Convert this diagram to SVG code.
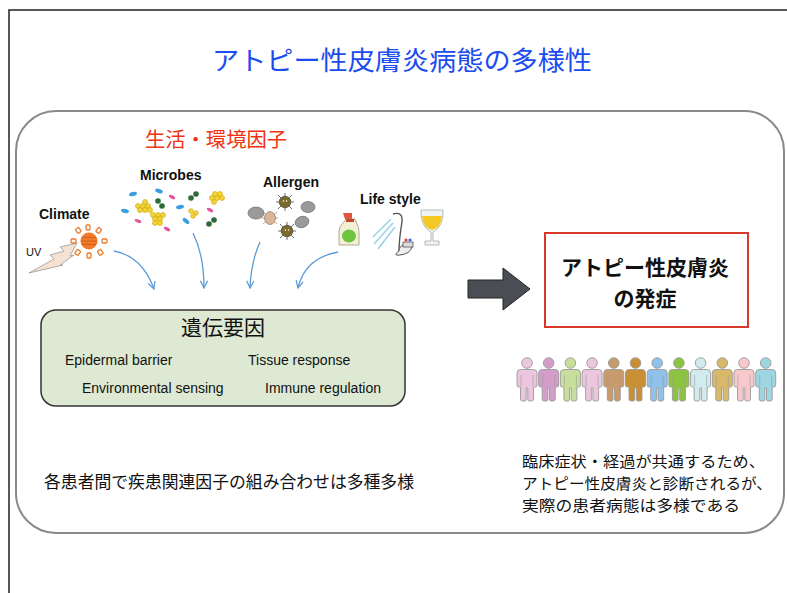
<svg xmlns="http://www.w3.org/2000/svg" xmlns:xlink="http://www.w3.org/1999/xlink" width="787" height="593" viewBox="0 0 787 593">
  <style>
    .jp { font-family: "Noto Sans CJK JP", "Noto Sans", sans-serif; }
    .lbl { font-family: "Liberation Sans", Arial, sans-serif; font-weight: bold; font-size: 14px; fill: #111; }
    .gene { font-family: "Liberation Sans", Arial, sans-serif; font-size: 14px; fill: #111; }
    .flow { fill: none; stroke: #5b9bd5; stroke-width: 1.3; }
    .blob { fill: #9a9a9a; stroke: #777; stroke-width: 0.8; }
    .blue { fill: #3a9fe0; }
    .pink { fill: #e0559a; }
    .dg { fill: #2d6b3a; }
    .yel { fill: #f3d43a; stroke: #c9a400; stroke-width: 0.6; }
  </style>
  <defs>
    <marker id="vhead" viewBox="0 0 10 10" refX="9" refY="5" markerWidth="9" markerHeight="9" orient="auto" markerUnits="userSpaceOnUse">
      <path d="M1,1 L9,5 L1,9" fill="none" stroke="#5b9bd5" stroke-width="1.4"/>
    </marker>
    <symbol id="person" viewBox="0 0 22 44" overflow="visible">
      <circle cx="11" cy="6" r="5.3" stroke="#9a9a9a" stroke-width="0.9"/>
      <path d="M4.5,12.5 H17.5 Q21,12.5 21,16 V28 Q21,30 19.2,30 H17.5 V42 Q17.5,44 15.5,44 H13.2 Q11.8,44 11.8,42 V31 H10.2 V42 Q10.2,44 8.8,44 H6.5 Q4.5,44 4.5,42 V30 H2.8 Q1,30 1,28 V16 Q1,12.5 4.5,12.5 Z" stroke="#9a9a9a" stroke-width="0.9"/>
      <path d="M5,18 V29 M17,18 V29" stroke="#9a9a9a" stroke-width="0.6" fill="none"/>
    </symbol>
    <g id="mite">
      <g stroke="#333" stroke-width="0.7">
        <path d="M-9,0 H9 M0,-9 V9 M-7,-7 L7,7 M-7,7 L7,-7"/>
      </g>
      <circle r="5.8" fill="#7a6a2a" stroke="#333" stroke-width="0.6"/>
      <circle cx="-1.6" cy="-1" r="0.8" fill="#fff"/>
      <circle cx="1.6" cy="-1" r="0.8" fill="#fff"/>
    </g>
  </defs>

  <!-- page frame -->
  <path d="M9,593 V10 H787" fill="none" stroke="#222" stroke-width="1.5"/>

  <!-- title -->
  <text class="jp" x="212" y="70" font-size="26" fill="#1a4cf0" textLength="380" lengthAdjust="spacingAndGlyphs">アトピー性皮膚炎病態の多様性</text>

  <!-- outer panel -->
  <rect x="16" y="111" width="768" height="422" rx="40" ry="40" fill="none" stroke="#8a8a8a" stroke-width="2"/>

  <text class="jp" x="145" y="147" font-size="20" fill="#f0320f" textLength="142" lengthAdjust="spacingAndGlyphs">生活・環境因子</text>

  <!-- Climate -->
  <g id="climate">
    <text class="lbl" x="39" y="219">Climate</text>
    <text x="26" y="256" font-family="Liberation Sans, Arial, sans-serif" font-size="11" fill="#111">UV</text>
    <polygon points="29,273 54,259 50,255 64,251 60,247 77,243 70,256 74,255 60,265 63,265" fill="#f6e2d2" stroke="#999" stroke-width="0.8"/>
    <g fill="none" stroke="#ee7a2a" stroke-width="1.3">
      <rect x="86" y="225" width="4" height="5" rx="1"/>
      <rect x="97" y="228" width="4" height="5" rx="1" transform="rotate(35 99 230)"/>
      <rect x="102" y="239" width="5" height="4" rx="1"/>
      <rect x="98" y="250" width="4" height="5" rx="1" transform="rotate(-35 100 252)"/>
      <rect x="87" y="253" width="4" height="5" rx="1"/>
      <rect x="76" y="250" width="4" height="5" rx="1" transform="rotate(35 78 252)"/>
      <rect x="71" y="239" width="5" height="4" rx="1"/>
      <rect x="76" y="228" width="4" height="5" rx="1" transform="rotate(-35 78 230)"/>
    </g>
    <circle cx="89" cy="241" r="8.5" fill="#f07a2a"/>
    <path d="M82,237.5 H96 M81,241 H97 M82,244.5 H96" stroke="#c95510" stroke-width="0.7"/>
  </g>

  <!-- Microbes -->
  <g id="microbes">
    <text class="lbl" x="140" y="180">Microbes</text>
    <ellipse class="blue" cx="133" cy="194" rx="4" ry="2" transform="rotate(-15 133 194)"/>
    <ellipse class="blue" cx="125" cy="211" rx="4" ry="2" transform="rotate(10 125 211)"/>
    <ellipse class="blue" cx="159" cy="191" rx="4" ry="2" transform="rotate(20 159 191)"/>
    <ellipse class="blue" cx="180" cy="207" rx="4" ry="2" transform="rotate(-10 180 207)"/>
    <ellipse class="blue" cx="186" cy="221" rx="4" ry="2" transform="rotate(40 186 221)"/>
    <ellipse class="pink" cx="172" cy="197" rx="3.5" ry="1.6" transform="rotate(30 172 197)"/>
    <ellipse class="pink" cx="138" cy="221" rx="3.5" ry="1.6" transform="rotate(20 138 221)"/>
    <ellipse class="pink" cx="167" cy="229" rx="3.5" ry="1.6" transform="rotate(30 167 229)"/>
    <ellipse class="pink" cx="210" cy="210" rx="3.5" ry="1.6" transform="rotate(30 210 210)"/>
    <circle class="dg" cx="158" cy="201" r="2.8"/><circle class="dg" cx="162" cy="206" r="2.8"/>
    <circle class="dg" cx="191" cy="198" r="2.8"/><circle class="dg" cx="196" cy="194" r="2.8"/>
    <circle class="dg" cx="209" cy="224" r="2.8"/><circle class="dg" cx="214" cy="220" r="2.8"/>
    <g>
      <circle class="yel" cx="138" cy="206" r="2.5"/><circle class="yel" cx="143" cy="206" r="2.5"/><circle class="yel" cx="148" cy="206" r="2.5"/>
      <circle class="yel" cx="140" cy="210" r="2.5"/><circle class="yel" cx="145" cy="210" r="2.5"/><circle class="yel" cx="150" cy="210" r="2.5"/>
      <circle class="yel" cx="145" cy="202" r="2.5"/>
      <circle class="yel" cx="153" cy="215" r="2.5"/><circle class="yel" cx="158" cy="215" r="2.5"/><circle class="yel" cx="163" cy="215" r="2.5"/>
      <circle class="yel" cx="155" cy="219" r="2.5"/><circle class="yel" cx="160" cy="219" r="2.5"/>
      <circle class="yel" cx="155" cy="223" r="2.5"/><circle class="yel" cx="160" cy="223" r="2.5"/>
      <circle class="yel" cx="212" cy="198" r="2.5"/><circle class="yel" cx="217" cy="198" r="2.5"/><circle class="yel" cx="222" cy="198" r="2.5"/>
      <circle class="yel" cx="215" cy="194" r="2.5"/><circle class="yel" cx="220" cy="194" r="2.5"/>
      <circle class="yel" cx="214" cy="202" r="2.5"/>
      <circle class="yel" cx="191" cy="211" r="2.3"/><circle class="yel" cx="196" cy="213" r="2.3"/><circle class="yel" cx="193" cy="216" r="2.3"/>
    </g>
  </g>

  <!-- Allergen -->
  <g id="allergen">
    <text class="lbl" x="263" y="187">Allergen</text>
    <ellipse class="blob" cx="256" cy="213" rx="8" ry="6"/>
    <ellipse class="blob" cx="308" cy="207" rx="7" ry="5.5"/>
    <ellipse class="blob" cx="302" cy="222" rx="7" ry="5.5" transform="rotate(-20 302 222)"/>
    <use href="#mite" x="285" y="202"/>
    <use href="#mite" x="287" y="231"/>
    <g stroke="#8a6a50" stroke-width="0.6">
      <path d="M263,212 L277,224 M263,224 L277,212 M262,218 H278"/>
    </g>
    <ellipse cx="270" cy="218" rx="5.5" ry="6.5" fill="#d8b69a" stroke="#8a6a50" stroke-width="0.6"/>
  </g>

  <!-- Life style -->
  <g id="lifestyle">
    <text class="lbl" x="360" y="204">Life style</text>
    <!-- spray bottle -->
    <path d="M343,213 H352 V219 H345 Z" fill="#e3523a"/>
    <path d="M346,219 H355 L357,224 Q359,227 359,232 V245 H339 V232 Q339,226 343,223 Z" fill="#f4f0d8" stroke="#9a9a70" stroke-width="0.8"/>
    <ellipse cx="349" cy="236" rx="7" ry="6.5" fill="#6fc33e"/>
    <rect x="346" y="219" width="8" height="3" fill="#c4462e"/>
    <!-- shower -->
    <path d="M373,237 L391,219 M374,244 L393,223 M378,249 L395,227" stroke="#9ad1ec" stroke-width="1.5" fill="none"/>
    <path d="M393,214 Q403,211 402,222 Q399,240 399,251" fill="none" stroke="#555" stroke-width="1.4"/>
    <path d="M399,251 Q392,256 400,255 Q410,254 412,247 L405,244 Q399,246 399,251" fill="#eee" stroke="#555" stroke-width="1"/>
    <rect x="403" y="242" width="10" height="5" fill="#ddd" stroke="#555" stroke-width="0.8"/>
    <circle cx="406" cy="240" r="1.6" fill="#e04040"/><circle cx="410" cy="240" r="1.6" fill="#4060e0"/>
    <!-- glass -->
    <path d="M421,210 H443 Q444,226 433,232 V241 H439 V245 H425 V241 H431 V232 Q420,226 421,210 Z" fill="#eef3f4" stroke="#aaa" stroke-width="0.8"/>
    <path d="M422,216 H442 Q441,228 432,230 Q423,228 422,216 Z" fill="#f5c823"/>
  </g>

  <!-- connectors -->
  <g id="connectors">
    <path class="flow" d="M114,251 Q142,256 154,289" marker-end="url(#vhead)"/>
    <path class="flow" d="M193,233 Q204,255 204,288" marker-end="url(#vhead)"/>
    <path class="flow" d="M260,242 Q251,262 250,288" marker-end="url(#vhead)"/>
    <path class="flow" d="M338,252 Q305,258 298,288" marker-end="url(#vhead)"/>
    <polygon points="468,280 503,280 503,268 530,289 503,310 503,298 468,298" fill="#4a4e54" stroke="#222" stroke-width="1"/>
  </g>

  <!-- genetic factors -->
  <g id="genetic">
    <rect x="41" y="310" width="364" height="96" rx="15" ry="15" fill="#dde9d3" stroke="#333" stroke-width="1.5"/>
    <text class="jp" x="223" y="335" font-size="21" fill="#111" text-anchor="middle">遺伝要因</text>
    <text class="gene" x="65" y="365">Epidermal barrier</text>
    <text class="gene" x="248" y="365">Tissue response</text>
    <text class="gene" x="82" y="393">Environmental sensing</text>
    <text class="gene" x="265" y="393">Immune regulation</text>
  </g>

  <!-- onset box -->
  <g id="onset">
    <rect x="545" y="233" width="203" height="94" fill="#fff" stroke="#d8382a" stroke-width="2"/>
    <text class="jp" x="645" y="275" font-size="21" font-weight="bold" fill="#111" text-anchor="middle">アトピー性皮膚炎</text>
    <text class="jp" x="645" y="306" font-size="21" font-weight="bold" fill="#111" text-anchor="middle">の発症</text>
  </g>

  <!-- patients -->
  <g id="patients">
    <use href="#person" x="516" y="357" width="22" height="44" fill="#ecc6df"/>
    <use href="#person" x="537.7" y="357" width="22" height="44" fill="#d49dc9"/>
    <use href="#person" x="559.4" y="357" width="22" height="44" fill="#c8df9b"/>
    <use href="#person" x="581.1" y="357" width="22" height="44" fill="#ecc6df"/>
    <use href="#person" x="602.8" y="357" width="22" height="44" fill="#c89a6c"/>
    <use href="#person" x="624.5" y="357" width="22" height="44" fill="#c98f35"/>
    <use href="#person" x="646.2" y="357" width="22" height="44" fill="#90c1e9"/>
    <use href="#person" x="667.9" y="357" width="22" height="44" fill="#8dc43f"/>
    <use href="#person" x="689.6" y="357" width="22" height="44" fill="#d1ebee"/>
    <use href="#person" x="711.3" y="357" width="22" height="44" fill="#d8b96a"/>
    <use href="#person" x="733" y="357" width="22" height="44" fill="#f7c8cc"/>
    <use href="#person" x="754.7" y="357" width="22" height="44" fill="#9dd6e0"/>
  </g>

  <!-- notes -->
  <text class="jp" x="44" y="488" font-size="17" fill="#111" textLength="370" lengthAdjust="spacingAndGlyphs">各患者間で疾患関連因子の組み合わせは多種多様</text>
  <g class="jp" font-size="15" fill="#111">
    <text x="522" y="467" textLength="243" lengthAdjust="spacingAndGlyphs">臨床症状・経過が共通するため、</text>
    <text x="522" y="489" textLength="250" lengthAdjust="spacingAndGlyphs">アトピー性皮膚炎と診断されるが、</text>
    <text x="522" y="511" textLength="218" lengthAdjust="spacingAndGlyphs">実際の患者病態は多様である</text>
  </g>
</svg>
